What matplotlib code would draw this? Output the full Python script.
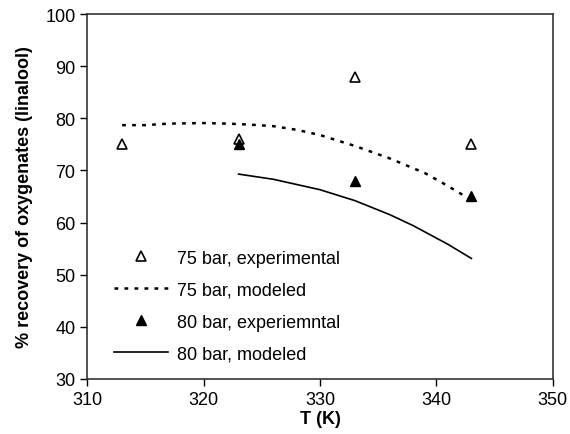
import matplotlib
matplotlib.use("Agg")
import matplotlib.pyplot as plt

plt.rcParams["font.family"] = ["Liberation Sans", "DejaVu Sans"]

# experimental points
t_75_exp = [313, 323, 333, 343]
rec_75_exp = [75, 76, 88, 75]
t_80_exp = [323, 333, 343]
rec_80_exp = [75, 68, 65]

# modeled curves
t_75_mod = [313, 315, 317, 320, 322, 324, 326, 328, 330, 333, 336, 339, 341, 343]
rec_75_mod = [78.7, 78.7, 79.0, 79.1, 79.0, 78.8, 78.5, 77.8, 76.8, 74.7, 72.3, 69.5, 67.0, 64.3]
t_80_mod = [323, 326, 330, 333, 336, 338, 341, 343]
rec_80_mod = [69.3, 68.3, 66.3, 64.2, 61.5, 59.4, 55.8, 53.1]

fig, ax = plt.subplots(figsize=(5.7, 4.35), dpi=100)
fig.subplots_adjust(left=0.153, right=0.970, top=0.965, bottom=0.127)

ax.plot(t_75_exp, rec_75_exp, "^", mfc="white", mec="black", mew=1.2, ms=7.5,
        ls="none", label="75 bar, experimental")
ax.plot(t_75_mod, rec_75_mod, color="black", ls=(0, (1.5, 2.5)), lw=1.8,
        label="75 bar, modeled")
ax.plot(t_80_exp, rec_80_exp, "^", color="black", ms=7.5, ls="none",
        label="80 bar, experiemntal")
ax.plot(t_80_mod, rec_80_mod, color="black", lw=1.2, label="80 bar, modeled")

ax.set_xlim(310, 350)
ax.set_ylim(30, 100)
ax.set_xticks(range(310, 351, 10))
ax.set_yticks(range(30, 101, 10))
ax.tick_params(direction="out", length=5, labelsize=13, width=1)
for s in ax.spines.values():
    s.set_linewidth(1.2)
    s.set_color("#333333")

ax.set_xlabel("T (K)", fontsize=13, fontweight="bold", labelpad=2)
ax.set_ylabel("% recovery of oxygenates (linalool)", fontsize=13,
              fontweight="bold", labelpad=9)

ax.legend(loc="lower left", bbox_to_anchor=(0.022, 0.0), frameon=False,
          fontsize=13, handlelength=3.0, labelspacing=0.83, handletextpad=0.5)

fig.savefig("out.png", dpi=100)
